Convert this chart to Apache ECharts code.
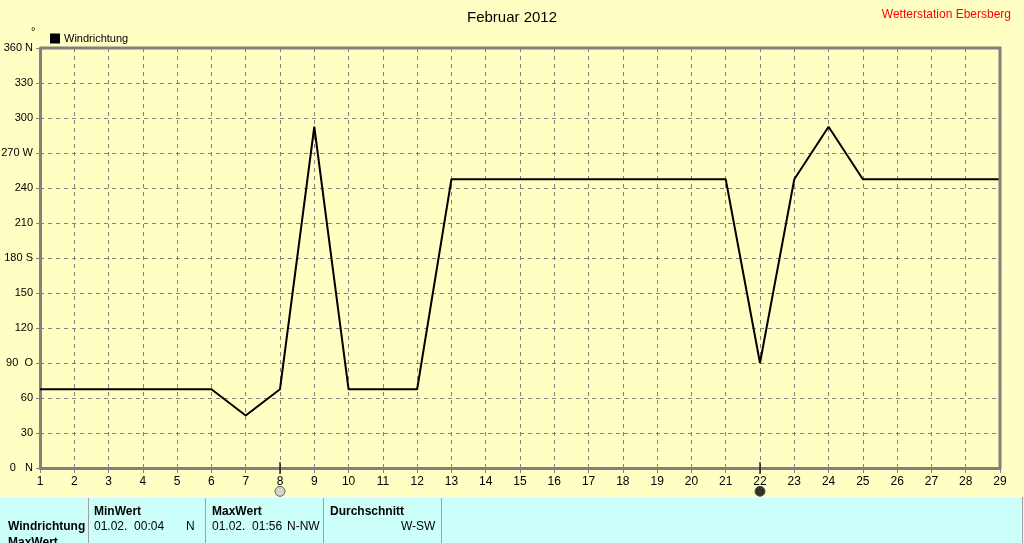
<!DOCTYPE html>
<html>
<head>
<meta charset="utf-8">
<script src="https://cdn.jsdelivr.net/npm/echarts@6/dist/echarts.min.js"></script>
<style>
  html, body { margin: 0; padding: 0; background: #ffffc4; }
  #chart { width: 1024px; height: 543px; }
</style>
</head>
<body>
<div id="chart"></div>
<script>
// Februar 2012, Windrichtung in Grad (Tagesdaten)
const days = [1, 2, 3, 4, 5, 6, 7, 8, 9, 10, 11, 12, 13, 14, 15, 16, 17, 18, 19, 20, 21, 22, 23, 24, 25, 26, 27, 28, 29];
const windDir = [67.5, 67.5, 67.5, 67.5, 67.5, 67.5, 45, 67.5, 292.5, 67.5, 67.5, 67.5, 247.5, 247.5, 247.5, 247.5, 247.5, 247.5, 247.5, 247.5, 247.5, 90, 247.5, 292.5, 247.5, 247.5, 247.5, 247.5, 247.5];
const compassLabels = { 0: '0   N', 90: '90  O', 180: '180 S', 270: '270 W', 360: '360 N' };
// Mondphasen: Vollmond (hell), Neumond (dunkel)
const moonDays = [8, 22];
const moonColors = ['#c8c8c8', '#000000'];
const moonOffset = -20;

const fontFamily = '"Liberation Sans", Arial, sans-serif';
const gridColor = '#808080';

const chart = echarts.init(document.getElementById('chart'));

const tableText = (x, y, text, bold, align) => ({
  type: 'text',
  left: x, top: y,
  style: {
    text: text,
    fill: '#000',
    font: (bold ? 'bold ' : '') + '12px ' + fontFamily,
    textAlign: align || 'left'
  }
});

chart.setOption({
  backgroundColor: '#ffffc4',
  animation: false,
  title: [{
    text: 'Februar 2012',
    left: 'center',
    top: 5,
    textStyle: { fontFamily: fontFamily, fontSize: 15, fontWeight: 'normal', color: '#000' }
  }, {
    text: 'Wetterstation Ebersberg',
    right: 8,
    top: 4,
    textStyle: { fontFamily: fontFamily, fontSize: 12, fontWeight: 'normal', color: '#ff0000' }
  }, {
    text: '°',
    left: 26,
    top: 21,
    textStyle: { fontFamily: fontFamily, fontSize: 11, fontWeight: 'normal', color: '#000' }
  }],
  legend: {
    left: 45,
    top: 28,
    itemWidth: 10,
    itemHeight: 10,
    itemGap: 4,
    icon: 'rect',
    data: ['Windrichtung'],
    textStyle: { fontFamily: fontFamily, fontSize: 11, color: '#000', padding: [0, 0, 0, -1] }
  },
  grid: { left: 40, right: 24, top: 48, bottom: 75, containLabel: false, outerBoundsMode: 'none' },
  xAxis: {
    type: 'value',
    min: 1,
    max: 29,
    interval: 1,
    axisLine: { show: true, lineStyle: { color: gridColor, width: 3 } },
    axisTick: { show: true, length: 5, lineStyle: { color: gridColor, width: 1 } },
    axisLabel: { color: '#000', fontFamily: fontFamily, fontSize: 12, margin: 8 },
    splitLine: { show: true, lineStyle: { color: gridColor, type: [4, 4], width: 1 } }
  },
  yAxis: {
    type: 'value',
    min: 0,
    max: 360,
    interval: 30,
    axisLine: { show: true, lineStyle: { color: gridColor, width: 3 } },
    axisTick: { show: true, length: 4, lineStyle: { color: gridColor, width: 1 } },
    axisLabel: {
      color: '#000', fontFamily: fontFamily, fontSize: 11, margin: 7,
      formatter: (v) => compassLabels[v] !== undefined ? compassLabels[v] : String(v)
    },
    splitLine: { show: true, lineStyle: { color: gridColor, type: [4, 4], width: 1 } }
  },
  graphic: [
    // Rahmen oben/rechts
    { type: 'polyline', shape: { points: [[40, 48], [1000, 48], [1000, 468]] }, style: { stroke: gridColor, lineWidth: 3, fill: null }, z: 10 },
    // Tabelle unten
    { type: 'rect', shape: { x: 0, y: 497, width: 1024, height: 46 }, style: { fill: '#ccfffa', stroke: null } },
    { type: 'line', shape: { x1: 0, y1: 497, x2: 1022, y2: 497 }, style: { stroke: '#ffffff', lineWidth: 1 } },
    { type: 'line', shape: { x1: 1022.5, y1: 497, x2: 1022.5, y2: 543 }, style: { stroke: '#a0a0a0', lineWidth: 1 } },
    { type: 'line', shape: { x1: 88.5, y1: 498, x2: 88.5, y2: 543 }, style: { stroke: '#a0a0a0', lineWidth: 1 } },
    { type: 'line', shape: { x1: 205.5, y1: 498, x2: 205.5, y2: 543 }, style: { stroke: '#a0a0a0', lineWidth: 1 } },
    { type: 'line', shape: { x1: 323.5, y1: 498, x2: 323.5, y2: 543 }, style: { stroke: '#a0a0a0', lineWidth: 1 } },
    { type: 'line', shape: { x1: 441.5, y1: 498, x2: 441.5, y2: 543 }, style: { stroke: '#a0a0a0', lineWidth: 1 } },
    tableText(8, 521, 'Windrichtung', true),
    tableText(8, 537, 'MaxWert', true),
    tableText(94, 506, 'MinWert', true),
    tableText(94, 521, '01.02.  00:04', false),
    tableText(186, 521, 'N', false),
    tableText(212, 506, 'MaxWert', true),
    tableText(212, 521, '01.02.  01:56', false),
    tableText(287, 521, 'N-NW', false),
    tableText(330, 506, 'Durchschnitt', true),
    tableText(401, 521, 'W-SW', false)
  ],
  series: [{
    name: 'Windrichtung',
    type: 'line',
    data: days.map((d, i) => [d, windDir[i]]),
    showSymbol: false,
    symbol: 'none',
    color: '#000',
    lineStyle: { color: '#000', width: 2 },
    z: 5
  }, {
    name: 'moonTick',
    type: 'scatter',
    data: moonDays.map((d) => [d, 0]),
    symbol: 'rect',
    symbolSize: [1.5, 12],
    itemStyle: { color: '#000' },
    clip: false,
    silent: true,
    z: 12
  }, {
    name: 'moon',
    type: 'scatter',
    data: moonDays.map((d, i) => ({ value: [d, moonOffset], itemStyle: { color: moonColors[i] } })),
    symbol: 'circle',
    symbolSize: 10,
    itemStyle: { borderColor: '#404040', borderWidth: 1 },
    clip: false,
    silent: true,
    z: 12
  }]
});
</script>
</body>
</html>
